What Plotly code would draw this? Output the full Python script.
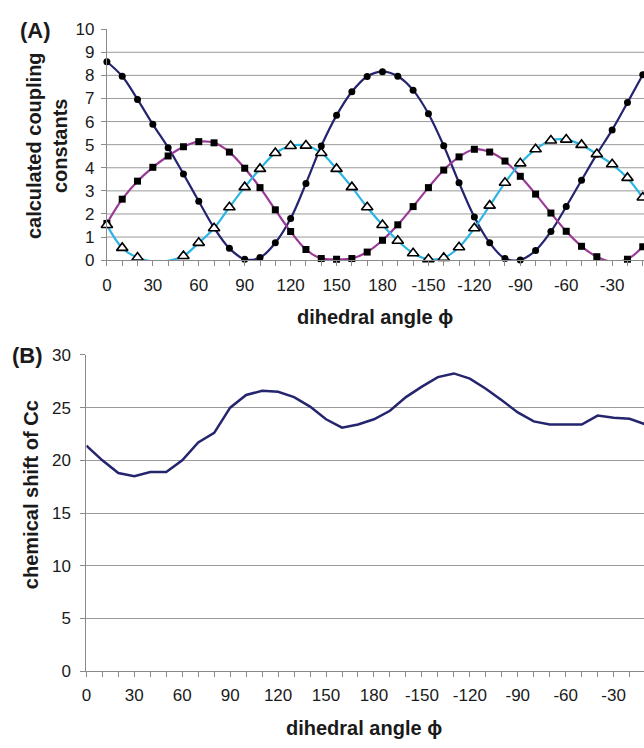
import plotly.graph_objects as go

# ---------------- data ----------------
angles = [0, 10, 20, 30, 40, 50, 60, 70, 80, 90, 100, 110, 120, 130, 140, 150, 160, 170, 180,
          -170, -160, -150, -140, -130, -120, -110, -100, -90, -80, -70, -60, -50, -40, -30, -20, -10]

j_circle = [8.59, 7.96, 6.96, 5.88, 4.87, 3.73, 2.55, 1.40, 0.51, 0.04, 0.11, 0.75, 1.80, 3.32, 4.94,
            6.27, 7.29, 7.95, 8.16, 7.96, 7.36, 6.34, 4.95, 3.35, 1.87, 0.75, 0.07, 0.01, 0.42, 1.24,
            2.32, 3.46, 4.59, 5.64, 6.82, 8.03]

j_square = [1.59, 2.64, 3.42, 4.02, 4.51, 4.91, 5.13, 5.08, 4.68, 3.98, 3.14, 2.18, 1.24, 0.46, 0.07,
            0.04, 0.07, 0.35, 0.86, 1.53, 2.32, 3.14, 3.90, 4.47, 4.80, 4.68, 4.29, 3.63, 2.86, 2.04,
            1.25, 0.60, 0.15, -0.07, 0.04, 0.58]

j_triangle = [1.52, 0.53, 0.11, -0.06, -0.03, 0.18, 0.75, 1.38, 2.29, 3.16, 3.95, 4.64, 4.94, 4.96, 4.64,
              3.95, 3.16, 2.29, 1.52, 0.84, 0.30, 0.04, 0.10, 0.56, 1.38, 2.36, 3.35, 4.19, 4.80, 5.18,
              5.22, 4.99, 4.59, 4.15, 3.56, 2.71]

shift_cc = [21.4, 20.0, 18.8, 18.5, 18.9, 18.9, 20.0, 21.7, 22.6, 25.0, 26.2, 26.6, 26.5, 26.0, 25.1,
            23.9, 23.1, 23.4, 23.9, 24.7, 26.0, 27.0, 27.9, 28.25, 27.75, 26.8, 25.7, 24.55, 23.7, 23.4,
            23.4, 23.4, 24.25, 24.05, 23.95, 23.4]

tick_labels = [str(a) for a in angles[::3]]

# ---------------- style ----------------
W, H = 644, 748
FONT = "Liberation Sans, Arial, Helvetica, sans-serif"
GRID = "#9a9a9a"
AXIS = "#8a8a8a"
TXT = "#1a1a1a"
NAVY = "#25246f"
MAGENTA = "#9a3a96"
CYAN = "#2bb5e6"

pos = list(range(len(angles)))


def masked(vals):
    return [v if v >= 0 else None for v in vals]


fig = go.Figure()

# panel A lines (smoothed)
for vals, col in [(j_circle, NAVY), (j_square, MAGENTA), (j_triangle, CYAN)]:
    fig.add_trace(go.Scatter(x=pos, y=vals, mode="lines", line=dict(color=col, width=2.2, shape="spline"),
                             xaxis="x", yaxis="y", showlegend=False, hoverinfo="skip"))

# panel A markers
fig.add_trace(go.Scatter(x=pos, y=masked(j_circle), mode="markers", cliponaxis=False,
                         marker=dict(symbol="circle", size=7, color="black"),
                         xaxis="x", yaxis="y", showlegend=False))
fig.add_trace(go.Scatter(x=pos, y=masked(j_square), mode="markers", cliponaxis=False,
                         marker=dict(symbol="square", size=7, color="black"),
                         xaxis="x", yaxis="y", showlegend=False))
fig.add_trace(go.Scatter(x=pos, y=masked(j_triangle), mode="markers", cliponaxis=False,
                         marker=dict(symbol="triangle-up", size=10, color="white",
                                     line=dict(color="black", width=1.6)),
                         xaxis="x", yaxis="y", showlegend=False))

# panel B
fig.add_trace(go.Scatter(x=pos, y=shift_cc, mode="lines", line=dict(color=NAVY, width=2.5),
                         xaxis="x2", yaxis="y2", showlegend=False))

TICKFONT = dict(family=FONT, size=17, color=TXT)

common_x = dict(
    tickmode="array", tickvals=pos[::3], ticktext=tick_labels,
    showgrid=False, zeroline=False, showline=True, linecolor=AXIS, linewidth=1,
    ticks="outside", ticklen=5, tickcolor=AXIS, tickwidth=1,
    minor=dict(dtick=1, tick0=0, ticks="outside", ticklen=5, tickcolor=AXIS, tickwidth=1, showgrid=False),
    tickfont=TICKFONT,
    ticklabelstandoff=4,
)

fig.update_layout(
    width=W, height=H,
    margin=dict(l=0, r=0, t=0, b=0),
    paper_bgcolor="white", plot_bgcolor="white",
    xaxis=dict(domain=[102.7 / W, 1], range=[0, 35.08], anchor="y", **common_x),
    yaxis=dict(domain=[1 - 257.7 / H, 1 - 20.7 / H], range=[0, 10], anchor="x",
               tickmode="array", tickvals=list(range(0, 11)),
               showgrid=False, zeroline=False, showline=True, linecolor=AXIS,
               ticks="outside", ticklen=5, tickcolor=AXIS,
               tickfont=TICKFONT, ticklabelstandoff=3),
    xaxis2=dict(domain=[82 / W, 1], range=[0, 34.9], anchor="y2", **common_x),
    yaxis2=dict(domain=[1 - 679.3 / H, 1 - 355 / H], range=[0, 30], anchor="x2",
                tickmode="linear", tick0=0, dtick=5,
                showgrid=True, gridcolor=GRID, gridwidth=1, zeroline=False,
                showline=True, linecolor=AXIS,
                ticks="outside", ticklen=5, tickcolor=AXIS,
                tickfont=TICKFONT, ticklabelstandoff=6),
)

# gridlines for panel A (no line at the top value)
for v in range(1, 10):
    fig.add_shape(type="line", xref="x domain", yref="y", x0=0, x1=1, y0=v, y1=v,
                  line=dict(color=GRID, width=1), layer="below")

bold = dict(family=FONT, size=20, color=TXT)
annos = [
    dict(text="<b>(A)</b>", x=31 / W, y=1 - 22 / H, font=dict(family=FONT, size=22, color=TXT)),
    dict(text="<b>(B)</b>", x=23 / W, y=1 - 356 / H, font=dict(family=FONT, size=22, color=TXT)),
    dict(text="<b>calculated coupling<br>constants</b>", x=43 / W, y=1 - 140 / H, textangle=-90, font=bold),
    dict(text="<b>dihedral angle ϕ</b>", x=373 / W, y=1 - 316 / H, font=bold),
    dict(text="<b>chemical shift of Cc</b>", x=27 / W, y=1 - 498 / H, textangle=-90, font=bold),
    dict(text="<b>dihedral angle ϕ</b>", x=362 / W, y=1 - 738 / H, font=bold),
]
for a in annos:
    fig.add_annotation(xref="paper", yref="paper", xanchor="center", yanchor="middle",
                       showarrow=False, **a)

fig.write_html("out.html", config={"displayModeBar": False},
               post_script="document.body.style.margin='0';document.body.style.overflow='hidden';")
